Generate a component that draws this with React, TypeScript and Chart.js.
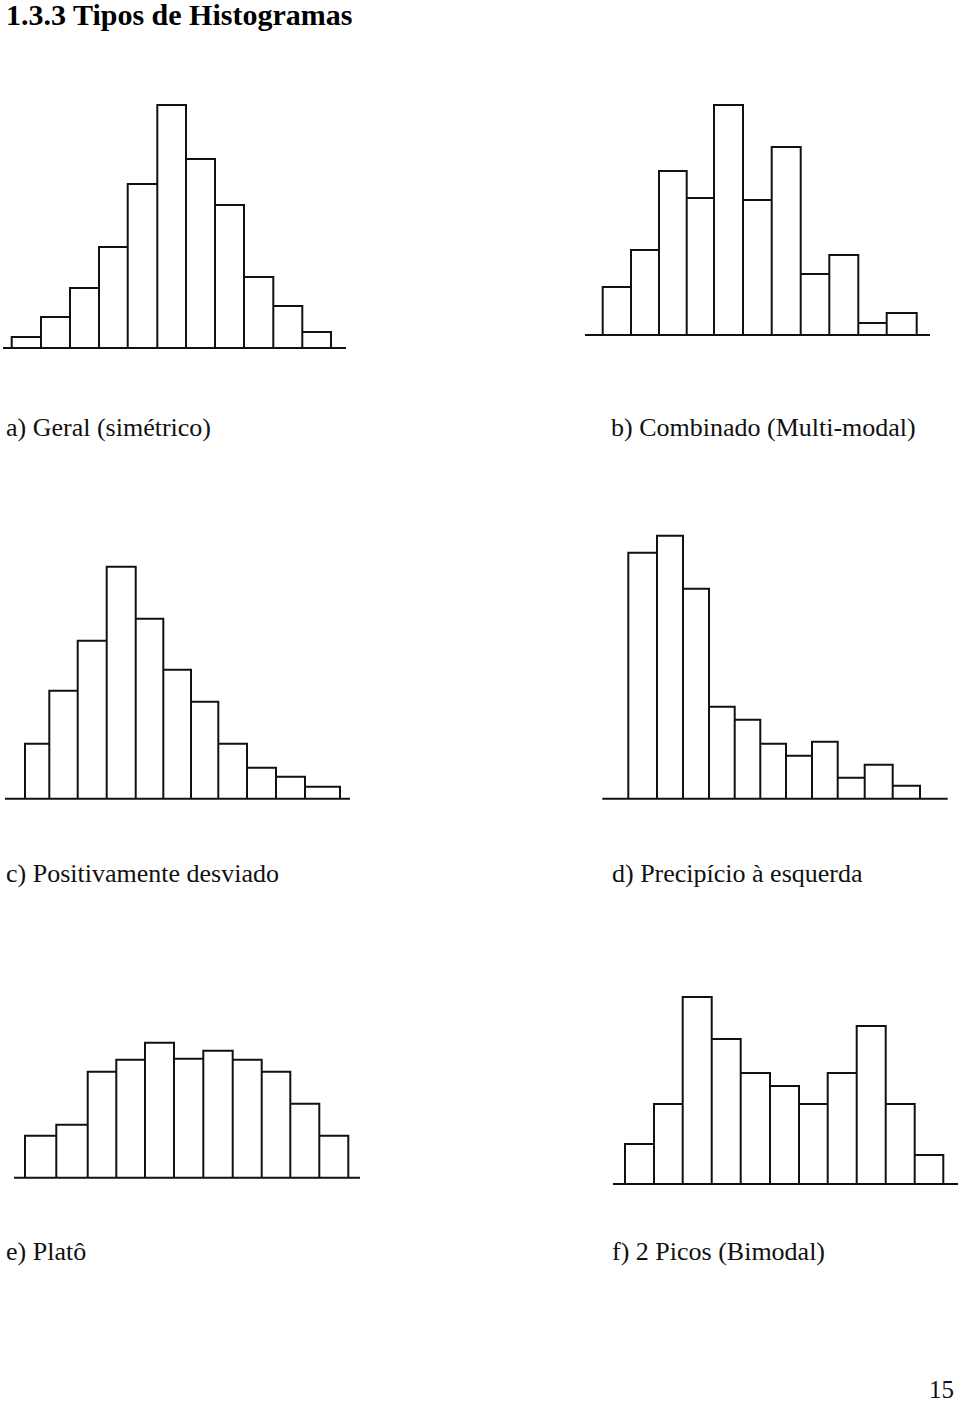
import React, { useEffect, useRef } from "react";
import { Chart, registerables } from "chart.js";

Chart.register(...registerables);

// ---- Data (bin edges and frequencies) ----
const edgesA = [0, 29.3, 58.3, 87.3, 116, 145.6, 174.3, 203.3, 232.3, 261.6, 290.6, 319.3];
const freqA = [11, 31, 60, 101, 164, 243, 189, 143, 71, 42, 16];

const edgesB = [0, 28.3, 56.3, 84, 111.3, 140.3, 169, 198, 226.6, 255.6, 284, 314];
const freqB = [48, 85, 164, 137, 230, 135, 188, 61, 80, 12, 22];

const edgesC = [0, 24.3, 52.7, 81.7, 110.7, 138.3, 166, 193.3, 222, 251, 280, 315];
const freqC = [55, 108, 158, 232, 180, 129, 97, 55, 31, 22, 12];

const edgesD = [0, 28.7, 54.7, 80.7, 106.4, 132, 157.7, 183.7, 209.4, 236.4, 264.4, 291.7];
const freqD = [246, 263, 210, 92, 79, 55, 43, 57, 21, 34, 13];

const edgesE = [0, 31.3, 62.7, 91.3, 120, 149, 178.3, 207.7, 236.7, 265.3, 294.3, 323.3];
const freqE = [42, 53, 106, 118, 135, 119, 127, 118, 106, 74, 42];

const edgesF = [0, 29, 57.7, 86.7, 115.7, 145, 174, 202.7, 231.7, 260.7, 289.7, 318.3];
const freqF = [40, 80, 187, 145, 111, 98, 80, 111, 158, 80, 29];

const captions = [
  "a) Geral (simétrico)",
  "b) Combinado (Multi-modal)",
  "c) Positivamente desviado",
  "d) Precipício à esquerda",
  "e) Platô",
  "f) 2 Picos (Bimodal)",
];

const titleText = "1.3.3 Tipos de Histogramas";
const pageNumber = "15";

// ---- Layout (positions on the page) ----
const panels = [
  { edges: edgesA, freqs: freqA, axis: [-8.7, 334.3], originX: 11.7, baselineY: 348 },
  { edges: edgesB, freqs: freqB, axis: [-17.7, 327.3], originX: 602.7, baselineY: 335 },
  { edges: edgesC, freqs: freqC, axis: [-20, 325], originX: 25, baselineY: 798.7 },
  { edges: edgesD, freqs: freqD, axis: [-26, 319.4], originX: 628.3, baselineY: 798.7 },
  { edges: edgesE, freqs: freqE, axis: [-11, 335], originX: 25, baselineY: 1177.7 },
  { edges: edgesF, freqs: freqF, axis: [-12, 333], originX: 625, baselineY: 1184 },
];

const captionPos = [
  { left: 6, top: 415 },
  { left: 611, top: 415 },
  { left: 6, top: 861 },
  { left: 612, top: 861 },
  { left: 6, top: 1239 },
  { left: 612, top: 1239 },
];

type PanelProps = {
  edges: number[];
  freqs: number[];
  axis: number[];
  originX: number;
  baselineY: number;
};

function Histogram({ edges, freqs, axis, originX, baselineY }: PanelProps) {
  const ref = useRef<HTMLCanvasElement | null>(null);
  const pad = 4;
  const above = 270;
  const below = 6;
  const left = Math.round(originX + axis[0] - pad);
  const xMin = left - originX;
  const width = Math.round(axis[1] - axis[0]) + 2 * pad;
  const xMax = xMin + width;
  const top = Math.round(baselineY - above);
  const yMax = baselineY - top;
  const height = above + below;
  const yMin = yMax - height;

  useEffect(() => {
    if (!ref.current) return;
    const outline: { x: number; y: number }[] = [];
    for (let i = 0; i < freqs.length; i++) {
      outline.push(
        { x: edges[i], y: 0 },
        { x: edges[i], y: freqs[i] },
        { x: edges[i + 1], y: freqs[i] },
        { x: edges[i + 1], y: 0 }
      );
    }
    const chart = new Chart(ref.current, {
      type: "scatter",
      data: {
        datasets: [
          {
            data: outline,
            showLine: true,
            borderColor: "#111",
            borderWidth: 2,
            pointRadius: 0,
            fill: false,
            tension: 0,
            borderJoinStyle: "miter",
            clip: false,
          } as any,
          {
            data: [
              { x: axis[0], y: 0 },
              { x: axis[1], y: 0 },
            ],
            showLine: true,
            borderColor: "#111",
            borderWidth: 2,
            pointRadius: 0,
            fill: false,
            clip: false,
          } as any,
        ],
      },
      options: {
        animation: false,
        responsive: false,
        devicePixelRatio: 1,
        events: [],
        layout: { padding: 0 },
        plugins: { legend: { display: false }, tooltip: { enabled: false } },
        scales: {
          x: { type: "linear", display: false, min: xMin, max: xMax },
          y: { type: "linear", display: false, min: yMin, max: yMax },
        },
      },
    });
    return () => chart.destroy();
  }, []);

  return (
    <canvas
      ref={ref}
      width={width}
      height={height}
      style={{ position: "absolute", left, top, width, height }}
    />
  );
}

const serif = '"Liberation Serif", "Times New Roman", serif';

export default function App() {
  return (
    <div style={{ position: "absolute", left: 0, top: 0, width: 960, height: 1401, background: "#fff" }}>
      <div
        style={{
          position: "absolute",
          left: 6,
          top: 0,
          fontFamily: serif,
          fontWeight: "bold",
          fontSize: 30,
          lineHeight: 1,
          whiteSpace: "nowrap",
          color: "#000",
        }}
      >
        {titleText}
      </div>
      {panels.map((p, i) => (
        <Histogram key={i} {...p} />
      ))}
      {captions.map((c, i) => (
        <div
          key={c}
          style={{
            position: "absolute",
            left: captionPos[i].left,
            top: captionPos[i].top,
            fontFamily: serif,
            fontSize: 26,
            lineHeight: 1,
            whiteSpace: "nowrap",
            color: "#111",
          }}
        >
          {c}
        </div>
      ))}
      <div
        style={{
          position: "absolute",
          left: 929,
          top: 1377,
          fontFamily: serif,
          fontSize: 25,
          lineHeight: 1,
          color: "#111",
        }}
      >
        {pageNumber}
      </div>
    </div>
  );
}
